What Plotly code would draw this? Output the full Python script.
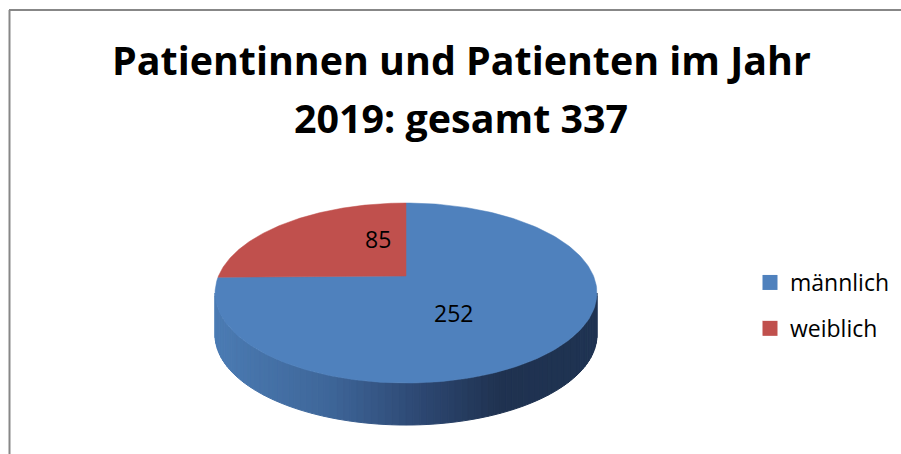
import numpy as np
import plotly.graph_objects as go

# ---- data ----
labels = ["männlich", "weiblich"]
values = [252, 85]
colors = ["#4F81BD", "#C0504D"]
title_lines = ["Patientinnen und Patienten im Jahr", "2019: gesamt 337"]

# ---- geometry (pixel-space axes) ----
W, H = 901, 454
cx, cy = 406, 276          # pie centre on the top face
rx, ry, persp = 187.5, 86.8, 0.189
depth = 42
FONT = "Open Sans"


def proj(theta_deg, fx=1.0, fy=None, dz=0.0):
    if fy is None:
        fy = fx
    t = np.radians(theta_deg)
    u = np.sin(t) * fx
    s = -np.cos(t) * fy
    den = 1 - persp * s
    return cx + rx * u / den, cy + ry * s / den + dz


def hex2rgb(h):
    h = h.lstrip("#")
    return [int(h[i:i + 2], 16) for i in (0, 2, 4)]


side_stops = [(0.0, "#4B7BB3"), (0.3, "#3E6699"), (0.55, "#2C4670"),
              (0.75, "#1F3250"), (1.0, "#1F3352")]


def side_color(t):
    for (t0, c0), (t1, c1) in zip(side_stops[:-1], side_stops[1:]):
        if t <= t1:
            a = (t - t0) / (t1 - t0)
            r0, r1 = hex2rgb(c0), hex2rgb(c1)
            return "rgb(%d,%d,%d)" % tuple(round(r0[i] + (r1[i] - r0[i]) * a) for i in range(3))
    return side_stops[-1][1]


fig = go.Figure()

# angles of slices (clockwise from 12 o'clock)
total = sum(values)
angles = np.cumsum([0] + [v / total * 360 for v in values])

# ---- side wall (front, visible part) ----
th_sil = np.degrees(np.arccos(-persp))
th_left, th_right = 360 - th_sil, th_sil
N = 90
ths = np.linspace(th_left, th_right, N + 1)
xl, _ = proj(th_left)
xr, _ = proj(th_right)
for i in range(N):
    a0, a1 = ths[i], ths[i + 1]
    x0, y0 = proj(a0)
    x1, y1 = proj(a1)
    xm = (x0 + x1) / 2
    c = side_color((xm - xl) / (xr - xl))
    fig.add_trace(go.Scatter(
        x=[x0, x1, x1, x0, x0], y=[y0, y1, y1 + depth, y0 + depth, y0],
        mode="lines", fill="toself", fillcolor=c,
        line=dict(color=c, width=1), hoverinfo="skip", showlegend=False))

# ---- top face slices ----
for k, (lab, val, col) in enumerate(zip(labels, values, colors)):
    a0, a1 = angles[k], angles[k + 1]
    arc = np.linspace(a0, a1, 200)
    px, py = proj(arc)
    xs = np.concatenate([[cx], px, [cx]])
    ys = np.concatenate([[cy], py, [cy]])
    fig.add_trace(go.Scatter(
        x=xs, y=ys, mode="lines", fill="toself", fillcolor=col,
        line=dict(color=col, width=0.5), hoverinfo="skip", showlegend=False))
    mid = (a0 + a1) / 2
    lx, ly = proj(mid, fx=0.28, fy=0.6)
    fig.add_annotation(x=lx, y=ly, text=str(val), showarrow=False,
                       font=dict(family=FONT, size=23, color="black"),
                       xanchor="center", yanchor="middle", xshift=7, yshift=3)

# ---- legend entries ----
for k, (lab, col) in enumerate(zip(labels, colors)):
    fig.add_trace(go.Scatter(
        x=[None], y=[None], mode="markers", name=lab, legendgroup=lab,
        marker=dict(symbol="square", size=15, color=col)))

# ---- title ----
fig.add_annotation(x=461, y=60, text="<b>%s</b>" % title_lines[0], showarrow=False,
                   font=dict(family=FONT, size=39.4, color="black"),
                   xanchor="center", yanchor="middle")
fig.add_annotation(x=461, y=118, text="<b>%s</b>" % title_lines[1], showarrow=False,
                   font=dict(family=FONT, size=39.4, color="black"),
                   xanchor="center", yanchor="middle")

# ---- frame ----
fig.add_shape(type="line", xref="x", yref="y", x0=9, x1=W, y0=10, y1=10,
              line=dict(color="#878787", width=2))
fig.add_shape(type="line", xref="x", yref="y", x0=9.5, x1=9.5, y0=10, y1=H,
              line=dict(color="#878787", width=2))

fig.update_layout(
    width=W, height=H,
    margin=dict(l=0, r=0, t=0, b=0),
    paper_bgcolor="white", plot_bgcolor="white",
    xaxis=dict(range=[0, W], visible=False, fixedrange=True),
    yaxis=dict(range=[H, 0], visible=False, fixedrange=True),
    showlegend=True,
    legend=dict(x=750 / W, y=1 - 261 / H, xanchor="left", yanchor="top",
                font=dict(family=FONT, size=23, color="black"),
                bgcolor="rgba(0,0,0,0)", tracegroupgap=13),
)

fig.write_html("out.html", config={"displayModeBar": False},
               post_script="document.body.style.margin='0';")
